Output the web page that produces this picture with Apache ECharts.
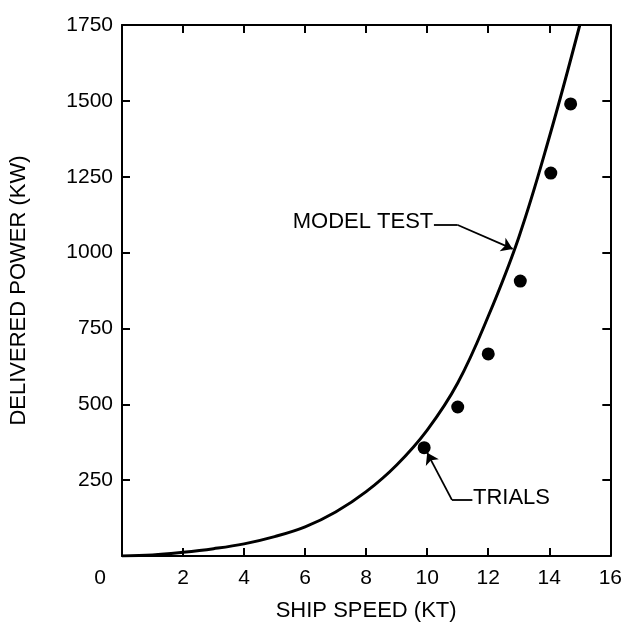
<!DOCTYPE html>
<html>
<head>
<meta charset="utf-8">
<script src="https://cdn.jsdelivr.net/npm/echarts@6/dist/echarts.min.js"></script>
<style>
  html, body { margin: 0; padding: 0; background: #fff; }
  #chart { width: 625px; height: 635px; }
</style>
</head>
<body>
<div id="chart"></div>
<script>
// model test curve (ship speed kt -> delivered power kW)
const modelSpeed = [0, 1, 2, 3, 4, 5, 6, 7, 8, 9, 10, 11, 12, 13, 14, 15]
const modelPower = [0, 3, 12, 24, 40, 64, 96, 145, 212, 300, 415, 570, 790, 1050, 1380, 1750]

// sea trials
const trialSpeed = [9.9, 11.0, 12.0, 13.05, 14.05, 14.7]
const trialPower = [357, 491, 666, 906, 1262, 1490]

// axes
const xTicks = [0, 2, 4, 6, 8, 10, 12, 14, 16]
const yTicks = [0, 250, 500, 750, 1000, 1250, 1500, 1750]

const FONT = 'Liberation Sans'
const ink = '#000'

const chart = echarts.init(document.getElementById('chart'))

const axisBase = {
  type: 'value',
  splitLine: { show: false },
  axisLine: { show: true, onZero: false, lineStyle: { color: ink, width: 2 } },
  axisTick: { show: true, inside: true, length: 8, lineStyle: { color: ink, width: 2 } }
}

const xAxisOpt = {
  ...axisBase,
  min: xTicks[0],
  max: xTicks[xTicks.length - 1],
  interval: xTicks[1] - xTicks[0]
}
const yAxisOpt = {
  ...axisBase,
  min: yTicks[0],
  max: yTicks[yTicks.length - 1],
  interval: yTicks[1] - yTicks[0]
}

const textStyle = { fontFamily: FONT, fontSize: 22, color: ink }

chart.setOption({
  backgroundColor: '#fff',
  animation: false,
  grid: { left: 122, right: 7, top: 25, bottom: 79 },
  xAxis: [
    {
      ...xAxisOpt,
      position: 'bottom',
      name: 'SHIP SPEED (KT)',
      nameLocation: 'middle',
      nameGap: 44,
      nameTextStyle: textStyle,
      axisLabel: {
        margin: 12,
        fontFamily: FONT,
        fontSize: 21,
        color: ink,
        formatter: v => (v === 0 ? '{z|0}' : String(v)),
        rich: { z: { fontFamily: FONT, fontSize: 21, color: ink, padding: [0, 44, 0, 0] } }
      }
    },
    { ...xAxisOpt, position: 'top', axisLabel: { show: false } }
  ],
  yAxis: [
    {
      ...yAxisOpt,
      position: 'left',
      name: 'DELIVERED POWER (KW)',
      nameLocation: 'middle',
      nameGap: 92,
      nameTextStyle: textStyle,
      axisLabel: {
        margin: 9,
        fontFamily: FONT,
        fontSize: 21,
        color: ink,
        formatter: v => (v === 0 ? '' : String(v))
      }
    },
    { ...yAxisOpt, position: 'right', axisLabel: { show: false } }
  ],
  series: [
    {
      name: 'MODEL TEST',
      type: 'line',
      data: modelSpeed.map((s, i) => [s, modelPower[i]]),
      smooth: 0.4,
      showSymbol: false,
      clip: true,
      lineStyle: { color: ink, width: 3 },
      markPoint: {
        silent: true,
        symbolSize: 0,
        data: [
          { coord: [10.2, 1101], label: { show: true, position: 'left', distance: 0, formatter: 'MODEL TEST', ...textStyle } },
          { coord: [11.5, 190], label: { show: true, position: 'right', distance: 0, formatter: 'TRIALS', ...textStyle } }
        ]
      },
      markLine: {
        silent: true,
        symbol: ['none', 'none'],
        label: { show: false },
        lineStyle: { color: ink, width: 1.8, type: 'solid' },
        data: [
          [{ coord: [10.22, 1091] }, { coord: [11.0, 1091] }],
          [{ coord: [11.48, 185] }, { coord: [10.81, 185] }]
        ]
      }
    },
    {
      name: 'TRIALS',
      type: 'scatter',
      data: trialSpeed.map((s, i) => [s, trialPower[i]]),
      symbol: 'circle',
      symbolSize: 13,
      itemStyle: { color: ink, opacity: 1 },
      markLine: {
        silent: true,
        symbol: ['none', 'arrow'],
        symbolSize: 11,
        label: { show: false },
        lineStyle: { color: ink, width: 1.8, type: 'solid' },
        data: [
          [{ coord: [11.0, 1091] }, { coord: [12.8, 1012] }],
          [{ coord: [10.81, 185] }, { coord: [10.0, 340] }]
        ]
      }
    }
  ]
})
</script>
</body>
</html>
